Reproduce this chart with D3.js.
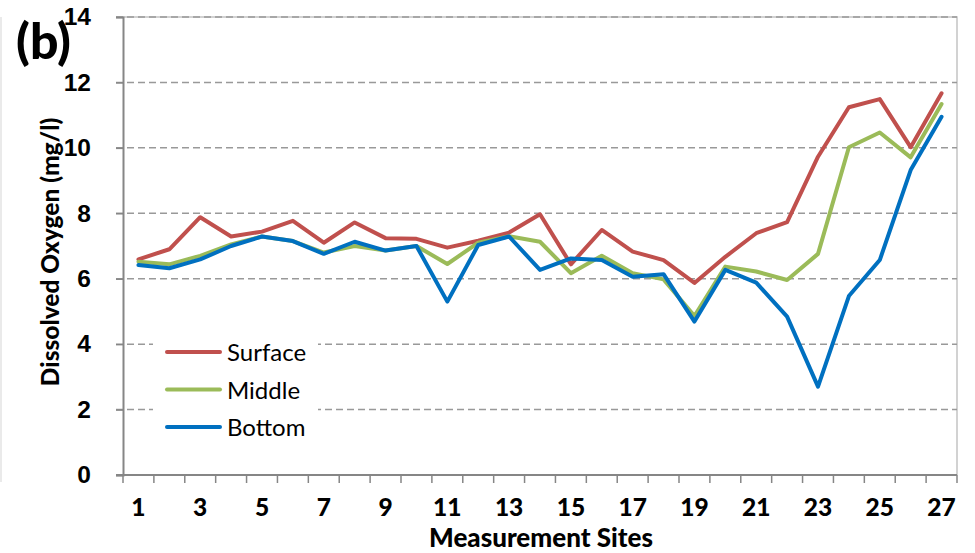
<!DOCTYPE html>
<html lang="en">
<head>
  <meta charset="UTF-8" />
  <title>Dissolved Oxygen by Measurement Site</title>
  <script src="https://d3js.org/d3.v7.min.js"></script>
  <style>
    body {
      margin: 0;
      background: #fff;
    }
    svg {
      display: block;
      font-family: Lato, "Open Sans", sans-serif;
    }
    .tick-label {
      font-size: 24.5px;
      font-weight: 900;
      fill: #000;
    }
    .axis-title {
      font-size: 26px;
      font-weight: 900;
      fill: #000;
    }
    .legend-label {
      font-size: 24px;
      fill: #000;
    }
  </style>
</head>
<body>
  <svg width="975" height="553"></svg>

  <script>
    // Data
    const sites = [1, 2, 3, 4, 5, 6, 7, 8, 9, 10, 11, 12, 13, 14, 15, 16, 17, 18, 19, 20, 21, 22, 23, 24, 25, 26, 27];
    const surface = [6.59, 6.90, 7.88, 7.29, 7.44, 7.77, 7.10, 7.72, 7.24, 7.22, 6.95, 7.16, 7.41, 7.97, 6.44, 7.49, 6.83, 6.57, 5.87, 6.67, 7.39, 7.73, 9.73, 11.24, 11.49, 10.02, 11.67];
    const middle = [6.52, 6.44, 6.70, 7.05, 7.29, 7.15, 6.80, 7.00, 6.86, 7.00, 6.45, 7.10, 7.30, 7.13, 6.17, 6.70, 6.17, 5.98, 4.86, 6.37, 6.22, 5.96, 6.76, 10.02, 10.47, 9.71, 11.34];
    const bottom = [6.42, 6.32, 6.59, 7.00, 7.29, 7.15, 6.76, 7.13, 6.86, 7.00, 5.30, 7.03, 7.29, 6.27, 6.62, 6.57, 6.06, 6.14, 4.69, 6.27, 5.88, 4.84, 2.70, 5.47, 6.57, 9.32, 10.95];
    const yTicks = [0, 2, 4, 6, 8, 10, 12, 14];
    const xTickLabels = [1, 3, 5, 7, 9, 11, 13, 15, 17, 19, 21, 23, 25, 27];

    const series = [
      { name: "Surface", values: surface, color: "#C0504D" },
      { name: "Middle", values: middle, color: "#9BBB59" },
      { name: "Bottom", values: bottom, color: "#0070C0" }
    ];

    const svg = d3.select("svg"),
          margin = { top: 17, right: 18, bottom: 78, left: 123 },
          W = +svg.attr("width"),
          H = +svg.attr("height"),
          x0 = margin.left, x1 = W - margin.right,
          y0 = H - margin.bottom, y1 = margin.top;

    const x = d3.scaleBand().domain(sites).range([x0, x1]).padding(0);
    const cx = d => x(d) + x.bandwidth() / 2;
    const y = d3.scaleLinear().domain([0, 14]).range([y0, y1]);

    // faint figure border on the left
    svg.append("line")
      .attr("x1", 1).attr("x2", 1)
      .attr("y1", y1).attr("y2", 482)
      .attr("stroke", "#e3e3e3").attr("stroke-width", 1.5);

    // plot area border (top + right)
    svg.append("path")
      .attr("d", `M${x0},${y1}H${x1}V${y0}`)
      .attr("fill", "none")
      .attr("stroke", "#c4c4c4")
      .attr("stroke-width", 1.5);

    // gridlines
    svg.append("g")
      .selectAll("line")
      .data(yTicks.filter(t => t > 0))
      .join("line")
      .attr("x1", x0 - 7).attr("x2", x1)
      .attr("y1", d => y(d)).attr("y2", d => y(d))
      .attr("stroke", "#999")
      .attr("stroke-width", 1.5)
      .attr("stroke-dasharray", "7,4");

    // y axis
    const yAxis = svg.append("g")
      .attr("transform", `translate(${x0},0)`)
      .call(d3.axisLeft(y).tickValues(yTicks).tickSize(7).tickPadding(25));
    yAxis.select(".domain").attr("stroke", "#868686").attr("stroke-width", 2);
    yAxis.selectAll(".tick line").attr("stroke", "#868686").attr("stroke-width", 1.5);
    yAxis.selectAll(".tick text")
      .attr("class", "tick-label")
      .attr("font-family", null).attr("font-size", null);

    // x axis (category ticks between sites)
    const xAxis = svg.append("g");
    xAxis.append("line")
      .attr("x1", x0 - 7).attr("x2", x1)
      .attr("y1", y0).attr("y2", y0)
      .attr("stroke", "#868686").attr("stroke-width", 2);
    const bounds = sites.map(d => x(d)).concat([x(sites[sites.length - 1]) + x.bandwidth()]);
    xAxis.selectAll(".xtick")
      .data(bounds)
      .join("line")
      .attr("class", "xtick")
      .attr("x1", d => d).attr("x2", d => d)
      .attr("y1", y0).attr("y2", y0 + 8)
      .attr("stroke", "#868686").attr("stroke-width", 1.5);
    xAxis.selectAll(".xlabel")
      .data(xTickLabels)
      .join("text")
      .attr("class", "tick-label xlabel")
      .attr("x", d => cx(d))
      .attr("y", 516)
      .attr("text-anchor", "middle")
      .text(d => d);

    // axis titles
    svg.append("text")
      .attr("class", "axis-title")
      .attr("x", (x0 + x1) / 2 + 1)
      .attr("y", 547)
      .attr("text-anchor", "middle")
      .text("Measurement Sites");

    svg.append("text")
      .attr("class", "axis-title")
      .attr("transform", `translate(59,252) rotate(-90)`)
      .attr("text-anchor", "middle")
      .style("font-size", "24.5px")
      .text("Dissolved Oxygen (mg/l)");

    // lines
    const line = d3.line()
      .x((v, i) => cx(sites[i]))
      .y(v => y(v));

    svg.append("g")
      .selectAll("path")
      .data(series)
      .join("path")
      .attr("d", d => line(d.values))
      .attr("fill", "none")
      .attr("stroke", d => d.color)
      .attr("stroke-width", 4)
      .attr("stroke-linejoin", "round")
      .attr("stroke-linecap", "round");

    // legend
    const legend = svg.append("g");
    legend.append("rect")
      .attr("x", 153).attr("y", 335)
      .attr("width", 165).attr("height", 108)
      .attr("fill", "#fff");
    const item = legend.selectAll(".item")
      .data(series)
      .join("g")
      .attr("class", "item")
      .attr("transform", (d, i) => `translate(0,${352 + i * 37.5})`);
    item.append("line")
      .attr("x1", 167).attr("x2", 220)
      .attr("stroke", d => d.color)
      .attr("stroke-width", 4)
      .attr("stroke-linecap", "round");
    item.append("text")
      .attr("class", "legend-label")
      .attr("x", 227)
      .attr("y", 9)
      .text(d => d.name);

    // panel label
    svg.append("text")
      .attr("x", 16)
      .attr("y", 59)
      .style("font-size", "50px")
      .style("font-weight", "900")
      .text("(b)");
  </script>
</body>
</html>
